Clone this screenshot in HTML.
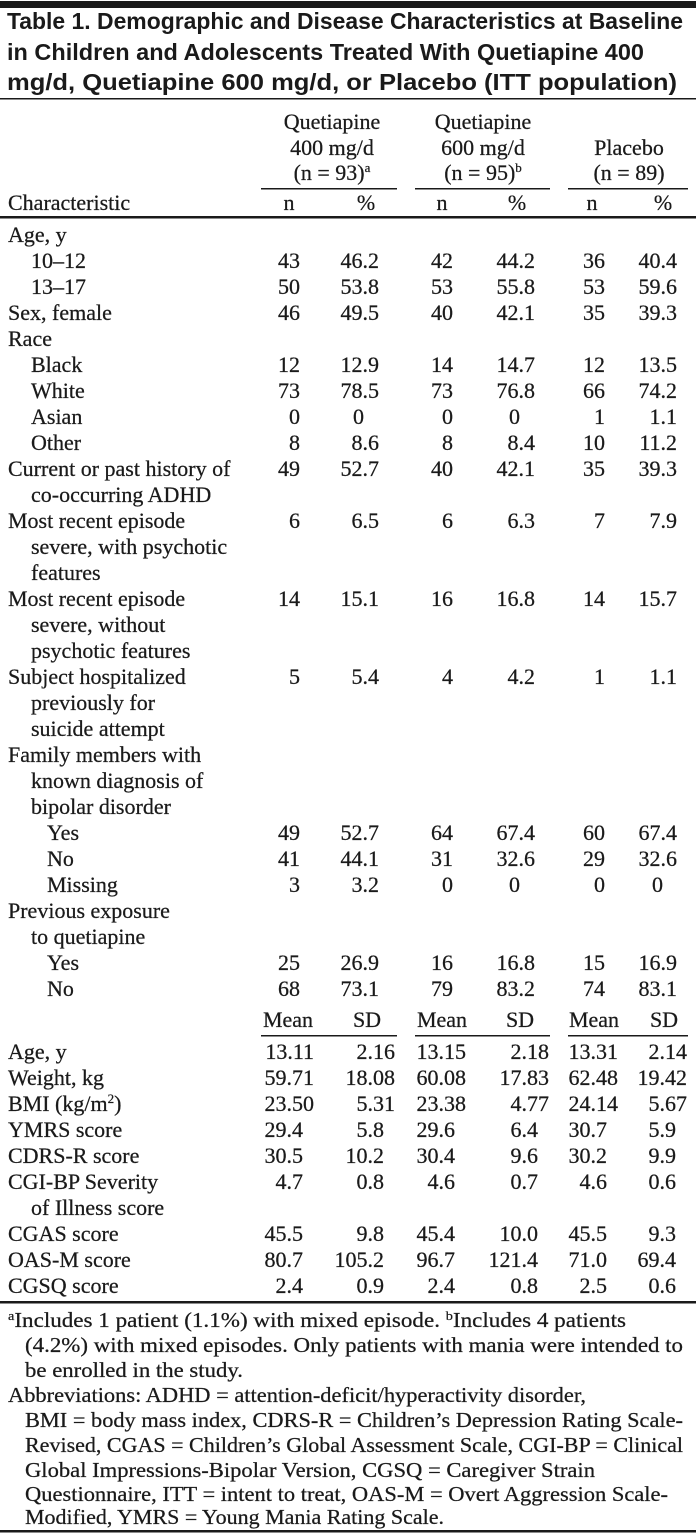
<!DOCTYPE html>
<html><head><meta charset="utf-8"><style>
html,body{margin:0;padding:0;background:#fff;}
svg{display:block;}
.s{font-family:"Liberation Serif",serif;font-size:22px;fill:#1a1a1a;stroke:#1a1a1a;stroke-width:0.25;}
.t{font-family:"Liberation Sans",sans-serif;font-weight:bold;font-size:23px;fill:#1a1a1a;}
.f{font-family:"Liberation Serif",serif;font-size:21px;fill:#1a1a1a;stroke:#1a1a1a;stroke-width:0.25;}
.e{text-anchor:end;}
.m{text-anchor:middle;}
</style></head><body>
<svg width="696" height="1536" xmlns="http://www.w3.org/2000/svg">
<rect x="0" y="1" width="696" height="7" fill="#1a1a1a"/>
<text class="t" x="7" y="29" textLength="676" lengthAdjust="spacingAndGlyphs">Table 1. Demographic and Disease Characteristics at Baseline</text>
<text class="t" x="7" y="60" textLength="637" lengthAdjust="spacingAndGlyphs">in Children and Adolescents Treated With Quetiapine 400</text>
<text class="t" x="7" y="90" textLength="670" lengthAdjust="spacingAndGlyphs">mg/d, Quetiapine 600 mg/d, or Placebo (ITT population)</text>
<rect x="0" y="98" width="696" height="1.5" fill="#1a1a1a"/>
<g class="s m">
<text x="332" y="129">Quetiapine</text><text x="332" y="155">400 mg/d</text><text x="332" y="180">(n = 93)<tspan font-size="13" dy="-8">a</tspan></text>
<text x="483" y="129">Quetiapine</text><text x="483" y="155">600 mg/d</text><text x="483" y="180">(n = 95)<tspan font-size="13" dy="-8">b</tspan></text>
<text x="629" y="155">Placebo</text><text x="629" y="180">(n = 89)</text>
<text x="289" y="210">n</text><text x="366" y="210">%</text>
<text x="442" y="210">n</text><text x="517" y="210">%</text>
<text x="592" y="210">n</text><text x="663" y="210">%</text>
</g>
<rect x="261" y="188" width="136" height="1.5" fill="#1a1a1a"/>
<rect x="415" y="188" width="135" height="1.5" fill="#1a1a1a"/>
<rect x="568" y="188" width="120" height="1.5" fill="#1a1a1a"/>
<text class="s" x="8" y="210">Characteristic</text>
<rect x="0" y="216" width="696" height="2.5" fill="#1a1a1a"/>
<g class="s">
<text x="8" y="242">Age, y</text>
<text x="31" y="268">10–12</text>
<text x="31" y="294">13–17</text>
<text x="8" y="320">Sex, female</text>
<text x="8" y="346">Race</text>
<text x="31" y="372">Black</text>
<text x="31" y="398">White</text>
<text x="31" y="424">Asian</text>
<text x="31" y="450">Other</text>
<text x="8" y="476">Current or past history of</text>
<text x="31" y="502">co-occurring ADHD</text>
<text x="8" y="528">Most recent episode</text>
<text x="31" y="554">severe, with psychotic</text>
<text x="31" y="580">features</text>
<text x="8" y="606">Most recent episode</text>
<text x="31" y="632">severe, without</text>
<text x="31" y="658">psychotic features</text>
<text x="8" y="684">Subject hospitalized</text>
<text x="31" y="710">previously for</text>
<text x="31" y="736">suicide attempt</text>
<text x="8" y="762">Family members with</text>
<text x="31" y="788">known diagnosis of</text>
<text x="31" y="814">bipolar disorder</text>
<text x="47" y="840">Yes</text>
<text x="47" y="866">No</text>
<text x="47" y="892">Missing</text>
<text x="8" y="918">Previous exposure</text>
<text x="31" y="944">to quetiapine</text>
<text x="47" y="970">Yes</text>
<text x="47" y="996">No</text>
</g>
<g class="s e">
<text x="300" y="268">43</text><text x="379" y="268">46.2</text><text x="453" y="268">42</text><text x="535" y="268">44.2</text><text x="605" y="268">36</text><text x="677" y="268">40.4</text>
<text x="300" y="294">50</text><text x="379" y="294">53.8</text><text x="453" y="294">53</text><text x="535" y="294">55.8</text><text x="605" y="294">53</text><text x="677" y="294">59.6</text>
<text x="300" y="320">46</text><text x="379" y="320">49.5</text><text x="453" y="320">40</text><text x="535" y="320">42.1</text><text x="605" y="320">35</text><text x="677" y="320">39.3</text>
<text x="300" y="372">12</text><text x="379" y="372">12.9</text><text x="453" y="372">14</text><text x="535" y="372">14.7</text><text x="605" y="372">12</text><text x="677" y="372">13.5</text>
<text x="300" y="398">73</text><text x="379" y="398">78.5</text><text x="453" y="398">73</text><text x="535" y="398">76.8</text><text x="605" y="398">66</text><text x="677" y="398">74.2</text>
<text x="300" y="424">0</text><text x="364" y="424">0</text><text x="453" y="424">0</text><text x="520" y="424">0</text><text x="605" y="424">1</text><text x="677" y="424">1.1</text>
<text x="300" y="450">8</text><text x="379" y="450">8.6</text><text x="453" y="450">8</text><text x="535" y="450">8.4</text><text x="605" y="450">10</text><text x="677" y="450">11.2</text>
<text x="300" y="476">49</text><text x="379" y="476">52.7</text><text x="453" y="476">40</text><text x="535" y="476">42.1</text><text x="605" y="476">35</text><text x="677" y="476">39.3</text>
<text x="300" y="528">6</text><text x="379" y="528">6.5</text><text x="453" y="528">6</text><text x="535" y="528">6.3</text><text x="605" y="528">7</text><text x="677" y="528">7.9</text>
<text x="300" y="606">14</text><text x="379" y="606">15.1</text><text x="453" y="606">16</text><text x="535" y="606">16.8</text><text x="605" y="606">14</text><text x="677" y="606">15.7</text>
<text x="300" y="684">5</text><text x="379" y="684">5.4</text><text x="453" y="684">4</text><text x="535" y="684">4.2</text><text x="605" y="684">1</text><text x="677" y="684">1.1</text>
<text x="300" y="840">49</text><text x="379" y="840">52.7</text><text x="453" y="840">64</text><text x="535" y="840">67.4</text><text x="605" y="840">60</text><text x="677" y="840">67.4</text>
<text x="300" y="866">41</text><text x="379" y="866">44.1</text><text x="453" y="866">31</text><text x="535" y="866">32.6</text><text x="605" y="866">29</text><text x="677" y="866">32.6</text>
<text x="300" y="892">3</text><text x="379" y="892">3.2</text><text x="453" y="892">0</text><text x="520" y="892">0</text><text x="605" y="892">0</text><text x="663" y="892">0</text>
<text x="300" y="970">25</text><text x="379" y="970">26.9</text><text x="453" y="970">16</text><text x="535" y="970">16.8</text><text x="605" y="970">15</text><text x="677" y="970">16.9</text>
<text x="300" y="996">68</text><text x="379" y="996">73.1</text><text x="453" y="996">79</text><text x="535" y="996">83.2</text><text x="605" y="996">74</text><text x="677" y="996">83.1</text>
</g>
<g class="s m">
<text x="288" y="1027">Mean</text><text x="367" y="1027">SD</text>
<text x="442" y="1027">Mean</text><text x="520" y="1027">SD</text>
<text x="594" y="1027">Mean</text><text x="664" y="1027">SD</text>
</g>
<rect x="261" y="1035" width="136" height="1.5" fill="#1a1a1a"/>
<rect x="415" y="1035" width="135" height="1.5" fill="#1a1a1a"/>
<rect x="568" y="1035" width="120" height="1.5" fill="#1a1a1a"/>
<g class="s">
<text x="8" y="1059">Age, y</text>
<text x="8" y="1085">Weight, kg</text>
<text x="8" y="1111">BMI (kg/m<tspan font-size="13" dy="-8">2</tspan><tspan dy="8">)</tspan></text>
<text x="8" y="1137">YMRS score</text>
<text x="8" y="1163">CDRS-R score</text>
<text x="8" y="1189">CGI-BP Severity</text>
<text x="31" y="1215">of Illness score</text>
<text x="8" y="1241">CGAS score</text>
<text x="8" y="1267">OAS-M score</text>
<text x="8" y="1293">CGSQ score</text>
</g>
<g class="s e">
<text x="314" y="1059">13.11</text><text x="395" y="1059">2.16</text><text x="466" y="1059">13.15</text><text x="549" y="1059">2.18</text><text x="618" y="1059">13.31</text><text x="687" y="1059">2.14</text>
<text x="314" y="1085">59.71</text><text x="395" y="1085">18.08</text><text x="466" y="1085">60.08</text><text x="549" y="1085">17.83</text><text x="618" y="1085">62.48</text><text x="687" y="1085">19.42</text>
<text x="314" y="1111">23.50</text><text x="395" y="1111">5.31</text><text x="466" y="1111">23.38</text><text x="549" y="1111">4.77</text><text x="618" y="1111">24.14</text><text x="687" y="1111">5.67</text>
<text x="303" y="1137">29.4</text><text x="384" y="1137">5.8</text><text x="455" y="1137">29.6</text><text x="538" y="1137">6.4</text><text x="607" y="1137">30.7</text><text x="676" y="1137">5.9</text>
<text x="303" y="1163">30.5</text><text x="384" y="1163">10.2</text><text x="455" y="1163">30.4</text><text x="538" y="1163">9.6</text><text x="607" y="1163">30.2</text><text x="676" y="1163">9.9</text>
<text x="303" y="1189">4.7</text><text x="384" y="1189">0.8</text><text x="455" y="1189">4.6</text><text x="538" y="1189">0.7</text><text x="607" y="1189">4.6</text><text x="676" y="1189">0.6</text>
<text x="303" y="1241">45.5</text><text x="384" y="1241">9.8</text><text x="455" y="1241">45.4</text><text x="538" y="1241">10.0</text><text x="607" y="1241">45.5</text><text x="676" y="1241">9.3</text>
<text x="303" y="1267">80.7</text><text x="384" y="1267">105.2</text><text x="455" y="1267">96.7</text><text x="538" y="1267">121.4</text><text x="607" y="1267">71.0</text><text x="676" y="1267">69.4</text>
<text x="303" y="1293">2.4</text><text x="384" y="1293">0.9</text><text x="455" y="1293">2.4</text><text x="538" y="1293">0.8</text><text x="607" y="1293">2.5</text><text x="676" y="1293">0.6</text>
</g>
<rect x="0" y="1301" width="696" height="2.5" fill="#1a1a1a"/>
<g class="f">
<text x="8" y="1327" textLength="618" lengthAdjust="spacingAndGlyphs"><tspan font-size="13" dy="-7">a</tspan><tspan dy="7">Includes 1 patient (1.1%) with mixed episode.  </tspan><tspan font-size="13" dy="-7">b</tspan><tspan dy="7">Includes 4 patients</tspan></text>
<text x="25" y="1352" textLength="658" lengthAdjust="spacingAndGlyphs">(4.2%) with mixed episodes. Only patients with mania were intended to</text>
<text x="25" y="1377" textLength="218" lengthAdjust="spacingAndGlyphs">be enrolled in the study.</text>
<text x="8" y="1402" textLength="578" lengthAdjust="spacingAndGlyphs">Abbreviations: ADHD = attention-deficit/hyperactivity disorder,</text>
<text x="25" y="1427" textLength="658" lengthAdjust="spacingAndGlyphs">BMI = body mass index, CDRS-R = Children’s Depression Rating Scale-</text>
<text x="25" y="1452" textLength="658" lengthAdjust="spacingAndGlyphs">Revised, CGAS = Children’s Global Assessment Scale, CGI-BP = Clinical</text>
<text x="25" y="1477" textLength="570" lengthAdjust="spacingAndGlyphs">Global Impressions-Bipolar Version, CGSQ = Caregiver Strain</text>
<text x="25" y="1501" textLength="643" lengthAdjust="spacingAndGlyphs">Questionnaire, ITT = intent to treat, OAS-M = Overt Aggression Scale-</text>
<text x="25" y="1524" textLength="419" lengthAdjust="spacingAndGlyphs">Modified, YMRS = Young Mania Rating Scale.</text>
</g>
<rect x="0" y="1530" width="696" height="2.5" fill="#1a1a1a"/>
</svg>
</body></html>
